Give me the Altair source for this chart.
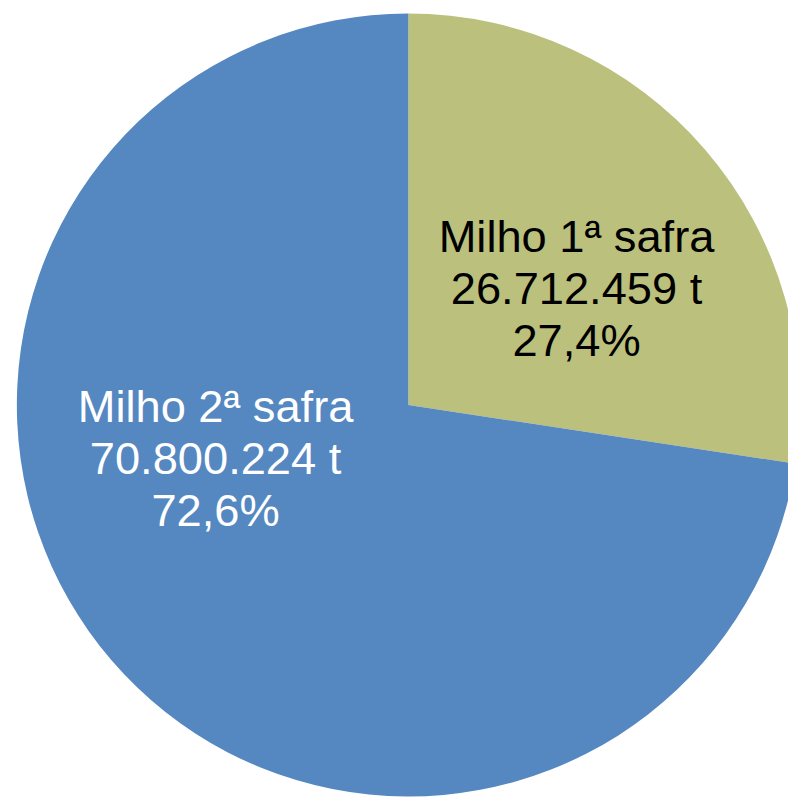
import altair as alt
import pandas as pd

categories = ["Milho 1ª safra", "Milho 2ª safra"]
values = [26712459, 70800224]
value_labels = ["26.712.459 t", "70.800.224 t"]
pct_labels = ["27,4%", "72,6%"]
colors = ["#BBC07D", "#5587C1"]
text_colors = ["#000000", "#FFFFFF"]

df = pd.DataFrame({
    "cat": categories,
    "val": values,
    "vlab": value_labels,
    "plab": pct_labels,
    "ord": list(range(len(categories))),
})
df["label"] = df["cat"] + "\n" + df["vlab"] + "\n" + df["plab"]

cx, cy, R = 407, 397, 398

base = alt.Chart(df)

pie = base.mark_arc(outerRadius=R, stroke=None).encode(
    theta=alt.Theta("val:Q", stack=True),
    color=alt.Color("cat:N", scale=alt.Scale(domain=categories, range=colors), legend=None),
    order=alt.Order("ord:Q"),
    x=alt.value(cx),
    y=alt.value(cy),
)

label_pos = {categories[0]: (578, 241), categories[1]: (211, 414)}

layers = [pie]
for i, c in enumerate(categories):
    px, py = label_pos[c]
    t = base.transform_filter(alt.datum.cat == c).mark_text(
        font="Liberation Sans", fontSize=46, lineBreak="\n", lineHeight=53,
        align="center", baseline="alphabetic", color=text_colors[i],
    ).encode(text="label:N", x=alt.value(px), y=alt.value(py))
    layers.append(t)

chart = alt.layer(*layers).properties(
    width=793, height=794, padding=0, autosize=alt.AutoSizeParams(type="none"),
    background="white",
).configure_view(stroke=None)

chart.save("out.html", embed_options={"renderer": "svg", "actions": False})
